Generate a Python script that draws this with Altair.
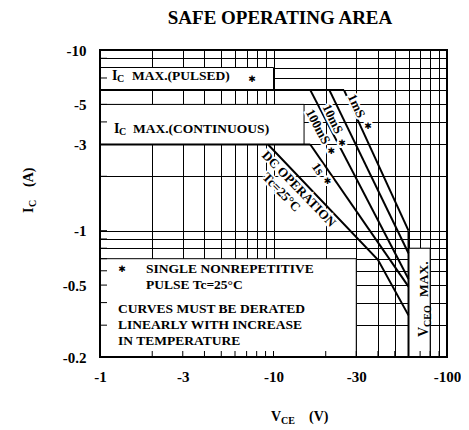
import altair as alt
import pandas as pd

TITLE = "SAFE OPERATING AREA"
X_DOMAIN = [1, 100]
Y_DOMAIN = [0.2, 10]
X_GRID = [1, 2, 3, 4, 5, 6, 7, 8, 9, 10, 20, 30, 40, 50, 60, 70, 80, 90, 100]
Y_GRID = [0.2, 0.3, 0.4, 0.5, 0.6, 0.7, 0.8, 0.9, 1, 2, 3, 4, 5, 6, 7, 8, 9, 10]
X_LABELS = [1, 3, 10, 30, 100]
Y_LABELS = [0.2, 0.5, 1, 3, 5, 10]

# SOA boundary curves (magnitudes of VCE in V and IC in A)
SERIES = ["IC MAX (PULSED)", "IC MAX (CONTINUOUS)", "1mS", "10mS", "100mS", "1s", "DC", "VCEO MAX"]
VCE = [[1, 25.5], [1, 16.3], [25.5, 60], [21, 60], [16.3, 60], [16.3, 60], [9.3, 40, 60], [60, 60]]
IC = [[6, 6], [3, 3], [6, 1.0], [6, 0.75], [6, 0.54], [3, 0.49], [3, 0.69, 0.34], [1.0, 0.2]]

# labels along the curves
SLANT_TEXT = ["1mS", "10mS", "100mS", "1s", "DC OPERATION", "Tc=25°C"]
SLANT_V = [30, 21.9, 18, 18, 14, 11.1]
SLANT_I = [4.9, 4.15, 3.76, 2.2, 1.7, 1.63]
SLANT_ANGLE = [65, 64, 62, 55, 46, 46]
STAR_V = [35, 24.8, 21.5, 20.5]
STAR_I = [3.8, 3.05, 2.75, 1.88]

# blank label panels
BOX_V = [1, 1, 1, 60]
BOX_V2 = [10, 15, 30, 80]
BOX_I = [6, 3, 0.2, 0.2]
BOX_I2 = [8, 5, 0.7, 0.8]

# fixed annotation texts (pixel offsets inside the plot frame)
NOTE_TEXT = ["I", "C", "MAX.(PULSED)", "I", "C", "MAX.(CONTINUOUS)",
             "SINGLE NONREPETITIVE", "PULSE Tc=25°C", "CURVES MUST BE DERATED",
             "LINEARLY WITH INCREASE", "IN TEMPERATURE",
             "V", "CEO", "MAX.",
             "I", "C", "(A)",
             "V", "CE", "(V)"]
NOTE_X = [12, 17, 32, 14, 19, 33, 46, 46, 18, 18, 18, 328, 331, 328, -67, -64, -67, 171, 181, 209]
NOTE_Y = [30, 32, 30, 83, 85, 83, 223, 239, 263, 279, 295, 287, 277, 247, 163, 157, 137, 371, 374, 371]
NOTE_SIZE = [14, 10, 13.5, 14, 10, 13.5, 13.5, 13.5, 13.5, 13.5, 13.5, 14, 10, 13.5, 14, 10, 14, 14, 10, 14]
NOTE_ANGLE = [0, 0, 0, 0, 0, 0, 0, 0, 0, 0, 0, 270, 270, 270, 270, 270, 270, 0, 0, 0]
NOTE_STAR_X = [152, 22]
NOTE_STAR_Y = [29, 219]

W, H = 347, 307
FONT = "Liberation Serif"

curves = pd.DataFrame([
    {"series": s, "k": k, "v": v, "i": i}
    for s, vs, iss in zip(SERIES, VCE, IC)
    for k, (v, i) in enumerate(zip(vs, iss))
])
slant = pd.DataFrame({"t": SLANT_TEXT, "v": SLANT_V, "i": SLANT_I, "a": SLANT_ANGLE})
stars = pd.DataFrame({"v": STAR_V, "i": STAR_I})
boxes = pd.DataFrame({"v": BOX_V, "v2": BOX_V2, "i": BOX_I, "i2": BOX_I2})
notes = pd.DataFrame({"t": NOTE_TEXT, "px": NOTE_X, "py": NOTE_Y, "s": NOTE_SIZE, "a": NOTE_ANGLE})
note_stars = pd.DataFrame({"px": NOTE_STAR_X, "py": NOTE_STAR_Y})
frame = pd.DataFrame({"v": [X_DOMAIN[0]], "v2": [X_DOMAIN[1]], "i": [Y_DOMAIN[0]], "i2": [Y_DOMAIN[1]]})
xticks = pd.DataFrame({"v": X_GRID})
yticks = pd.DataFrame({"i": Y_GRID})

xs = alt.Scale(type="log", domain=X_DOMAIN, nice=False)
ys = alt.Scale(type="log", domain=Y_DOMAIN, nice=False)

lab_x = "indexof(" + str(X_LABELS) + ", datum.value) >= 0 ? '-' + datum.value : ''"
lab_y = "indexof(" + str(Y_LABELS) + ", datum.value) >= 0 ? '-' + datum.value : ''"

xaxis = alt.Axis(values=X_GRID, labelExpr=lab_x, grid=True, gridColor="black", gridOpacity=1,
                 gridWidth=1, ticks=False, domain=False, labelPadding=12, labelFont=FONT,
                 labelFontWeight="bold", labelFontSize=15, labelColor="black", title=None,
                 labelOverlap=False, labelFlush=False)
yaxis = alt.Axis(values=Y_GRID, labelExpr=lab_y, grid=True, gridColor="black", gridOpacity=1,
                 gridWidth=1, ticks=False, domain=False, labelPadding=14, labelFont=FONT,
                 labelFontWeight="bold", labelFontSize=15, labelColor="black", title=None,
                 labelOverlap=False, labelFlush=False)

X = alt.X("v:Q", scale=xs, axis=xaxis)
Y = alt.Y("i:Q", scale=ys, axis=yaxis)

box_layer = alt.Chart(boxes).mark_rect(fill="white", stroke="black", strokeWidth=1).encode(
    x=X, x2="v2:Q", y=Y, y2="i2:Q")

ytick_layer = alt.Chart(yticks).mark_rule(color="black", strokeWidth=1).encode(
    y=Y, x=alt.value(0), x2=alt.value(7))
xtick_layer = alt.Chart(xticks).mark_rule(color="black", strokeWidth=1).encode(
    x=X, y=alt.value(H - 6), y2=alt.value(H))

line_layer = alt.Chart(curves).mark_line(color="black", strokeWidth=2).encode(
    x=X, y=Y, detail="series:N", order="k:Q")

slant_halo = alt.Chart(slant).mark_text(font=FONT, fontWeight="bold", fontSize=13,
                                         color="white", stroke="white", strokeWidth=4,
                                         align="center", baseline="middle").encode(
    x=X, y=Y, text="t:N", angle=alt.Angle("a:Q", scale=None))
slant_layer = alt.Chart(slant).mark_text(font=FONT, fontWeight="bold", fontSize=13,
                                          color="black", align="center", baseline="middle").encode(
    x=X, y=Y, text="t:N", angle=alt.Angle("a:Q", scale=None))

star_halo = alt.Chart(stars).mark_text(font="DejaVu Sans", fontSize=9, color="white", stroke="white",
                                        strokeWidth=4, align="center", baseline="middle",
                                        text="\u2731").encode(x=X, y=Y)
star_layer = alt.Chart(stars).mark_text(font="DejaVu Sans", fontSize=9, color="black",
                                         align="center", baseline="middle", text="\u2731").encode(
    x=X, y=Y)

note_layer = alt.Chart(notes).mark_text(font=FONT, fontWeight="bold", color="black",
                                         align="left", baseline="alphabetic").encode(
    x=alt.X("px:Q", scale=None), y=alt.Y("py:Q", scale=None), text="t:N",
    size=alt.Size("s:Q", scale=None, legend=None), angle=alt.Angle("a:Q", scale=None))

note_star_layer = alt.Chart(note_stars).mark_text(font="DejaVu Sans", fontSize=9, color="black",
                                                   align="center", baseline="middle", text="\u2731").encode(
    x=alt.X("px:Q", scale=None), y=alt.Y("py:Q", scale=None))

title_layer = alt.Chart(pd.DataFrame({"t": [TITLE]})).mark_text(
    font=FONT, fontWeight="bold", fontSize=19, color="black", align="center", baseline="alphabetic").encode(
    x=alt.value(180), y=alt.value(-26), text="t:N")

frame_layer = alt.Chart(frame).mark_rect(fill=None, stroke="black", strokeWidth=2).encode(
    x=X, x2="v2:Q", y=Y, y2="i2:Q")

chart = alt.layer(
    box_layer, ytick_layer, xtick_layer, line_layer, slant_halo, slant_layer, star_halo, star_layer,
    note_layer, note_star_layer, title_layer, frame_layer
).properties(
    width=W, height=H,
    autosize=alt.AutoSizeParams(type="none"),
    padding={"left": 92, "top": 42, "right": 14, "bottom": 70},
).configure_view(stroke=None).configure(background="white")

chart.save("out.html", embed_options={"renderer": "svg", "actions": False})
